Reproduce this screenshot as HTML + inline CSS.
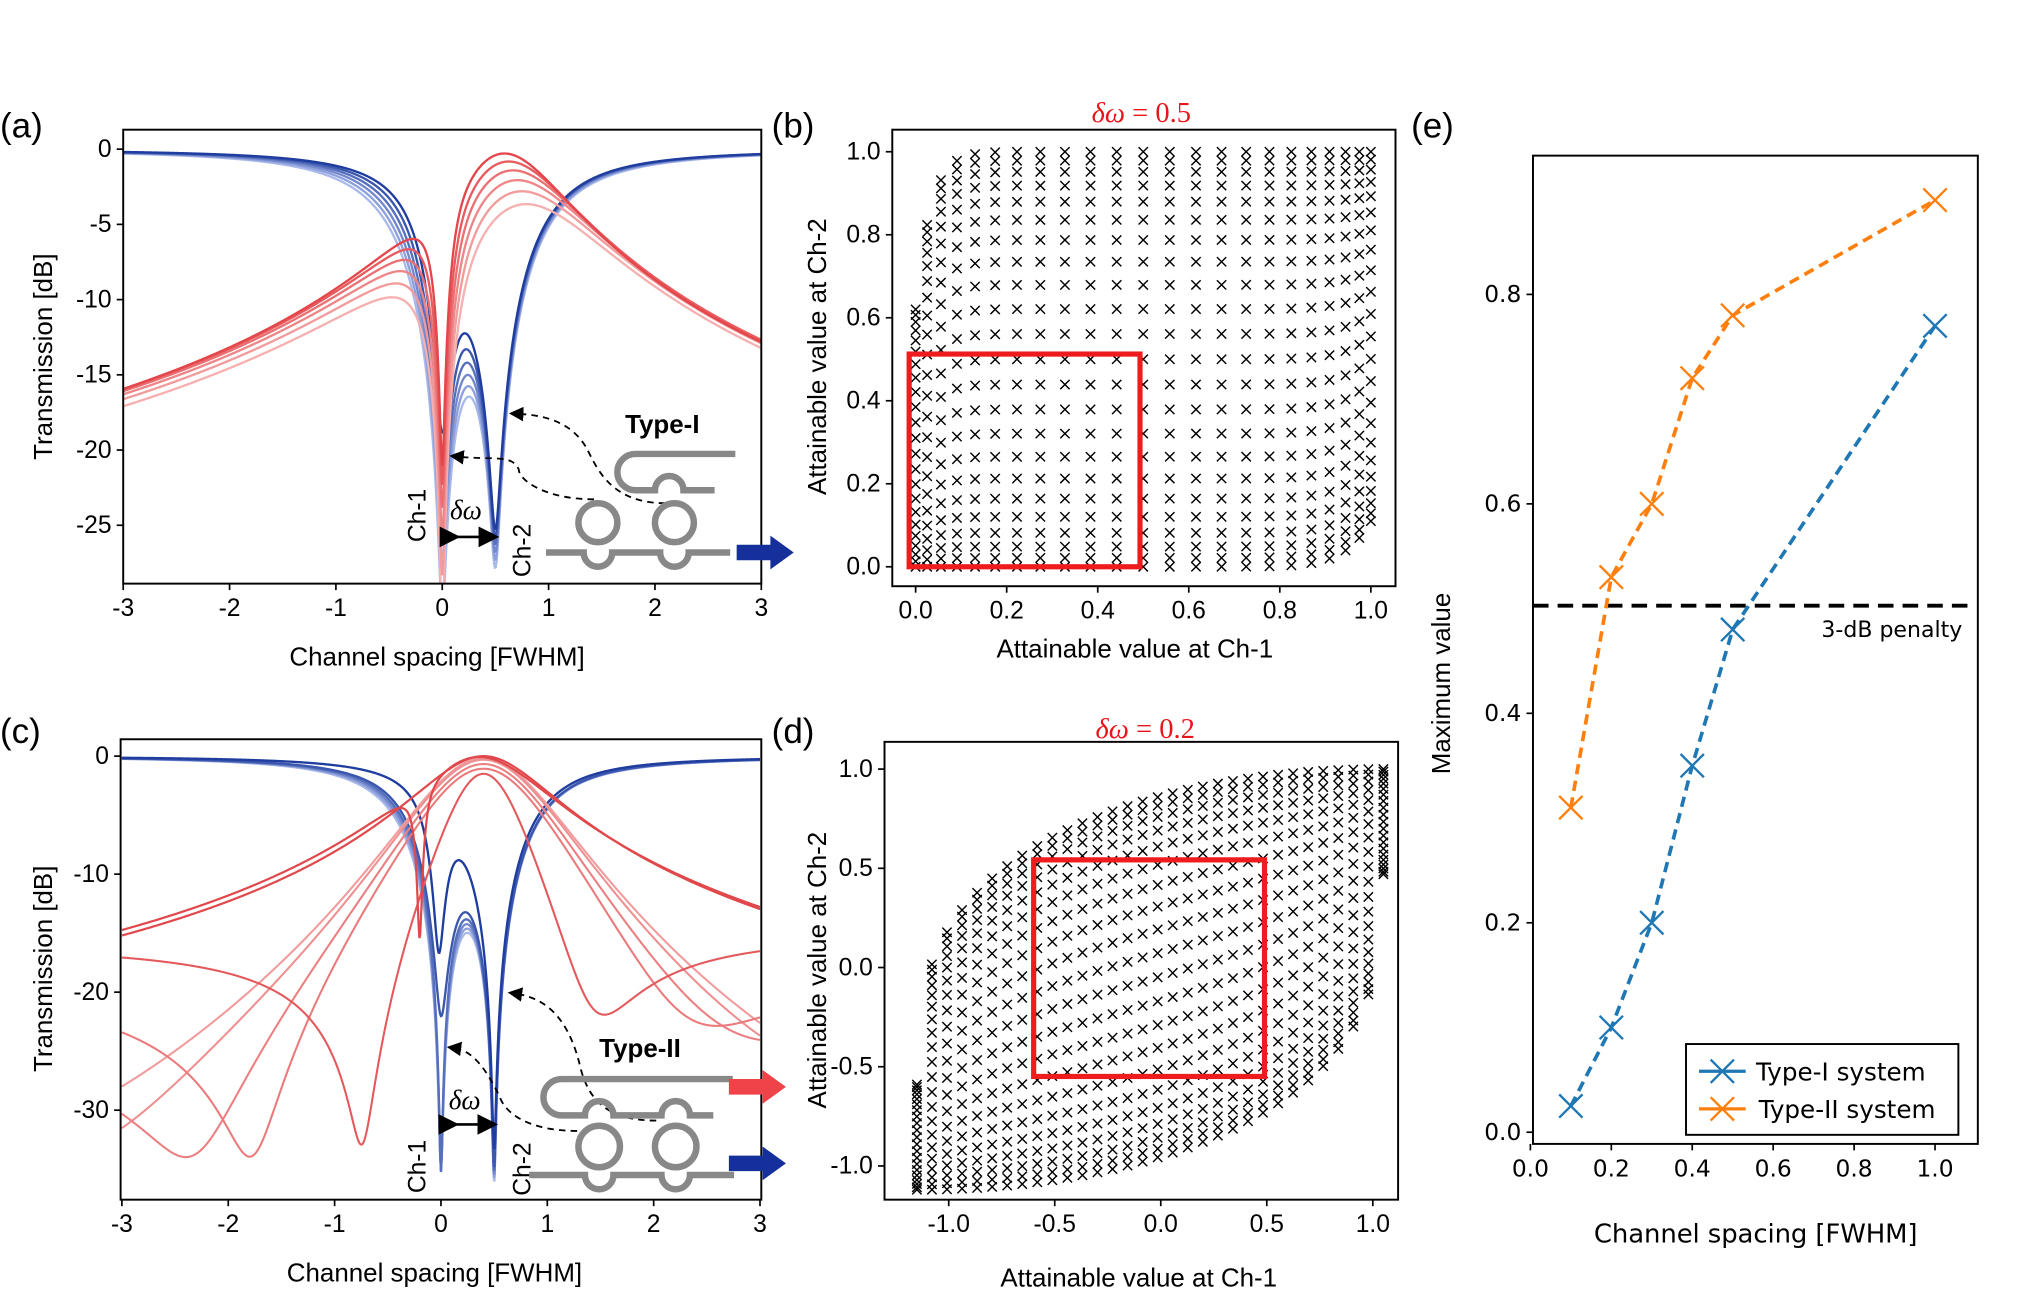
<!DOCTYPE html>
<html><head><meta charset="utf-8">
<style>
html,body{margin:0;padding:0;background:#fff;overflow:hidden;width:2031px;height:1295px;}
svg{display:block;}
text{font-family:"Liberation Sans","DejaVu Sans",sans-serif;fill:#000;}
</style></head>
<body>
<svg id="s" width="2031" height="1295" viewBox="0 0 1566 998.5" xmlns="http://www.w3.org/2000/svg" style="overflow:hidden">
<defs>
<clipPath id="ca"><rect x="95" y="100" width="492" height="350"/></clipPath>
<clipPath id="cc"><rect x="93" y="570" width="494" height="355"/></clipPath>
<marker id="ah" markerWidth="8" markerHeight="8" refX="4" refY="4" orient="auto"><path d="M0,0 L8,4 L0,8 z" fill="#000"/></marker>
</defs>
<g id="root"></g>

<text x="0" y="106" font-size="27">(a)</text>
<text x="595" y="106" font-size="27">(b)</text>
<text x="1088" y="106" font-size="27">(e)</text>
<text x="0" y="573" font-size="27">(c)</text>
<text x="595" y="573" font-size="27">(d)</text>

<text transform="translate(40,275) rotate(-90)" font-size="20" text-anchor="middle">Transmission [dB]</text>
<text x="337" y="513" font-size="20" text-anchor="middle">Channel spacing [FWHM]</text>
<text transform="translate(40,747) rotate(-90)" font-size="20" text-anchor="middle">Transmission [dB]</text>
<text x="335" y="988" font-size="20" text-anchor="middle">Channel spacing [FWHM]</text>
<text transform="translate(637,275) rotate(-90)" font-size="20" text-anchor="middle">Attainable value at Ch-2</text>
<text x="875" y="507" font-size="20" text-anchor="middle">Attainable value at Ch-1</text>
<text transform="translate(637,748) rotate(-90)" font-size="20" text-anchor="middle">Attainable value at Ch-2</text>
<text x="878" y="992" font-size="20" text-anchor="middle">Attainable value at Ch-1</text>
<text transform="translate(1118,527) rotate(-90)" font-size="20" text-anchor="middle">Maximum value</text>
<text x="1354" y="958" font-size="20" text-anchor="middle" style="font-family:'DejaVu Sans',sans-serif;letter-spacing:0.5px" textLength="250">Channel spacing [FWHM]</text>
<text x="880" y="94" font-size="22" text-anchor="middle" style="font-family:'Liberation Serif',serif;fill:#e8161b"><tspan font-style="italic">δω</tspan> = 0.5</text>
<text x="883" y="569" font-size="22" text-anchor="middle" style="font-family:'Liberation Serif',serif;fill:#e8161b"><tspan font-style="italic">δω</tspan> = 0.2</text>
</svg>
<script>
const NS="http://www.w3.org/2000/svg";
const root=document.getElementById('root');
function el(tag,attrs,parent,txt){const e=document.createElementNS(NS,tag);for(const k in attrs)e.setAttribute(k,attrs[k]);if(txt!==undefined)e.textContent=txt;(parent||root).appendChild(e);return e;}
function L(x,c,w){const u=2*(x-c)/w;return 1/(1+u*u);}
function db(v){return 10*Math.log10(Math.max(v,1e-6));}
function curve(f,X,Y,x0,x1,attrs,clip){let d="";for(let i=0;i<=800;i++){const x=x0+(x1-x0)*i/800;d+=(i?"L":"M")+X(x).toFixed(2)+","+Y(f(x)).toFixed(2);}
 const a=Object.assign({d:d,fill:"none","stroke-width":1.8},attrs);if(clip)a["clip-path"]="url(#"+clip+")";return el("path",a);}
function mix(c1,c2,t){const p=s=>[1,3,5].map(i=>parseInt(s.substr(i,2),16));const a=p(c1),b=p(c2);return "rgb("+a.map((v,i)=>Math.round(v+(b[i]-v)*t)).join(",")+")";}
function xm(x,y,s,g,col,sw){el("path",{d:`M${x-s},${y-s}L${x+s},${y+s}M${x-s},${y+s}L${x+s},${y-s}`,stroke:col||"#000","stroke-width":sw||1.1,fill:"none"},g);}
function axes(x0,y0,x1,y1){el("rect",{x:x0,y:y0,width:x1-x0,height:y1-y0,fill:"none",stroke:"#000","stroke-width":1.5});}
function xt(x,y,lab,fs,ff){el("line",{x1:x,y1:y,x2:x,y2:y+5,stroke:"#000","stroke-width":1.3});const t=el("text",{x:x,y:y+25,"font-size":fs||19,"text-anchor":"middle"},undefined,lab);if(ff)t.setAttribute("style","font-family:"+ff);}
function yt(x,y,lab,fs,ff){el("line",{x1:x,y1:y,x2:x-5,y2:y,stroke:"#000","stroke-width":1.3});const t=el("text",{x:x-9,y:y+6,"font-size":fs||19,"text-anchor":"end"},undefined,lab);if(ff)t.setAttribute("style","font-family:"+ff);}

// ===== Panel (a)
{const X=x=>341+82*x,Y=v=>115-11.6*v;
const N=6;
for(let i=N-1;i>=0;i--){const t=i/(N-1);
 const d1=0.965+0.033*Math.pow(t,0.4), w2=1.3-0.1*t, w1=0.6+0.6*t, d2=0.996;
 curve(x=>db((1-d1*L(x,0,w1))*(1-d2*L(x,0.5,w2))),X,Y,-3,3,{stroke:mix("#1f3d9e","#a9b9ea",t),"stroke-width":1.8},"ca");}
for(let i=N-1;i>=0;i--){const t=i/(N-1);
 const A=1-0.5*t,c=0.55+0.15*t,wp=1.15+0.35*t,wn=0.3+0.3*t,dn=0.985+0.013*t;
 curve(x=>db(A*L(x,c,wp)*(1-dn*L(x,0,wn))),X,Y,-3,3,{stroke:mix("#e3464b","#f6b0b0",t),"stroke-width":1.8},"ca");}
axes(95,100,587,450);
[-3,-2,-1,0,1,2,3].forEach(v=>xt(X(v),450,String(v)));
[0,-5,-10,-15,-20,-25].forEach(v=>yt(95,Y(v),String(v)));
el("text",{transform:`translate(328,418) rotate(-90)`,"font-size":19},undefined,"Ch-1");
el("text",{transform:`translate(409,445) rotate(-90)`,"font-size":19},undefined,"Ch-2");
el("line",{x1:347,y1:414,x2:377,y2:414,stroke:"#000","stroke-width":2,"marker-end":"url(#ah)","marker-start":"url(#ah)"});
el("text",{x:347,y:400,"font-size":21,style:"font-family:'Liberation Serif',serif;font-style:italic"},undefined,"δω");
el("path",{d:"M458,385 C420,385 400,370 400,362 C395,350 380,355 352,352",stroke:"#000","stroke-width":1.4,"stroke-dasharray":"5,4",fill:"none","marker-end":"url(#ah)"});
el("path",{d:"M513,388 C470,388 460,360 452,345 C440,325 420,320 398,319",stroke:"#000","stroke-width":1.4,"stroke-dasharray":"5,4",fill:"none","marker-end":"url(#ah)"});
el("text",{x:482,y:334,"font-size":20,"font-weight":"bold"},undefined,"Type-I");
const g=el("g",{stroke:"#888","stroke-width":5,fill:"none"});
el("path",{d:"M567,350 L490,350 A14,14 0 0 0 490,378 L505,378 A11,11 0 0 1 527,378 L551,378"},g);
el("ellipse",{cx:461,cy:403,rx:15,ry:15},g);el("ellipse",{cx:520,cy:403,rx:15,ry:15},g);
el("path",{d:"M421,426 L450,426 A11,11 0 0 0 472,426 L509,426 A11,11 0 0 0 531,426 L563,426"},g);
el("path",{d:"M568,420 L594,420 L594,413 L612,426 L594,439 L594,432 L568,432 z",fill:"#15309a"});
}

// ===== Panel (c)
{const X=x=>340+82*x,Y=v=>583-9.1*v;
const N=6;
for(let i=N-1;i>=0;i--){const t=i/(N-1);
 const d1=(i==0?0.95:(i==1?0.985:0.9993)), w2=1.2-0.1*t, w1=(i==0?0.35:0.7+0.35*t), d2=0.9995;
 const c1=(i==0?-0.02:0);
 curve(x=>db((1-d1*L(x,c1,w1))*(1-d2*L(x,0.5,w2))),X,Y,-3,3,{stroke:mix("#1f3d9e","#a9b9ea",t)},"cc");}
const sig=x=>1/(1+Math.exp(-3*(x-0.6)));
// [c, w, k, rightFloorFactor, t]
const reds=[[0.4,1.6,0.018,1.2,0.75],[0.4,1.6,0.035,1.0,0.65],[0.4,1.6,0.0755,0.6,0.5],[0.4,1.6,0.117,0.35,0.45],[0.4,1.0,0.16,0.25,0.15]];
reds.forEach(([c,w,k,rf,t])=>{
 curve(x=>{const l=L(x,c,w);return db((l-k)*(l-k)+sig(x)*rf*k*k+0.0004);},X,Y,-3,3,{stroke:mix("#e0484c","#f6b6b6",t),"stroke-width":1.6},"cc");});
curve(x=>db(L(x,0.4,1.2)),X,Y,-3,3,{stroke:"#e0484c","stroke-width":1.7},"cc");
curve(x=>db(L(x,0.35,1.25)*(1-0.95*L(x,-0.2,0.15))),X,Y,-3,3,{stroke:"#e0484c","stroke-width":1.7},"cc");
axes(93,570,587,925);
[-3,-2,-1,0,1,2,3].forEach(v=>xt(X(v),925,String(v)));
[0,-10,-20,-30].forEach(v=>yt(93,Y(v),String(v)));
el("text",{transform:`translate(328,920) rotate(-90)`,"font-size":19},undefined,"Ch-1");
el("text",{transform:`translate(409,922) rotate(-90)`,"font-size":19},undefined,"Ch-2");
el("line",{x1:346,y1:867,x2:376,y2:867,stroke:"#000","stroke-width":2,"marker-end":"url(#ah)","marker-start":"url(#ah)"});
el("text",{x:346,y:855,"font-size":21,style:"font-family:'Liberation Serif',serif;font-style:italic"},undefined,"δω");
el("path",{d:"M445,872 C410,872 390,860 385,845 C375,825 365,810 350,808",stroke:"#000","stroke-width":1.4,"stroke-dasharray":"5,4",fill:"none","marker-end":"url(#ah)"});
el("path",{d:"M506,864 C470,864 455,850 448,825 C440,790 425,770 397,766",stroke:"#000","stroke-width":1.4,"stroke-dasharray":"5,4",fill:"none","marker-end":"url(#ah)"});
el("text",{x:462,y:815,"font-size":20,"font-weight":"bold"},undefined,"Type-II");
const g=el("g",{stroke:"#888","stroke-width":5,fill:"none"});
el("path",{d:"M565,832 L433,832 A14,14 0 0 0 433,860 L451,860 A11,11 0 0 1 473,860 L510,860 A11,11 0 0 1 532,860 L550,860"},g);
el("circle",{cx:462,cy:884,r:16},g);el("circle",{cx:521,cy:884,r:16},g);
el("path",{d:"M408,906 L451,906 A11,11 0 0 0 473,906 L510,906 A11,11 0 0 0 532,906 L566,906"},g);
el("path",{d:"M562,832 L588,832 L588,825 L606,838 L588,851 L588,844 L562,844 z",fill:"#ee4449"});
el("path",{d:"M562,891 L588,891 L588,884 L606,897 L588,910 L588,903 L562,903 z",fill:"#15309a"});
}

// ===== Panel (b)
{const X=x=>706+351*x,Y=y=>437-320*y;const g=el("g",{});
const n=22;
for(let i=0;i<=n;i++)for(let j=0;j<=n;j++){
 const u=i/n,v0=j/n;const v=0.4*v0+0.6*(1-Math.cos(Math.PI*v0))/2;
 const x=0.5*u+0.5*(1-Math.cos(Math.PI*u))/2;
 const ymax=1-0.38*Math.pow(1-x,30),ymin=0.11*Math.pow(x,18);
 xm(X(x),Y(ymin+v*(ymax-ymin)),3.6,g);}
axes(688,100,1076,452);
[0,0.2,0.4,0.6,0.8,1].forEach(v=>xt(X(v),452,v.toFixed(1)));
[0,0.2,0.4,0.6,0.8,1].forEach(v=>yt(688,Y(v),v.toFixed(1)));
el("rect",{x:701,y:273,width:178,height:164,fill:"none",stroke:"#ee1c1c","stroke-width":4});
}

// ===== Panel (d)
{const X=x=>895+163.5*x,Y=y=>746-153*y;const g=el("g",{});
const f=u=>Math.sqrt(Math.max(0,1-(1-u)*(1-u)));
const nc=31,nr=20;
for(let i=0;i<=nc;i++){const u=i/nc;const x=-1.15+2.2*u;
 const ymax=-1.12+2.12*(0.25+0.75*Math.pow(f(u),0.7)), ymin=-1.12+2.12*(0.75-0.75*Math.pow(f(1-u),0.7));
 for(let j=0;j<=nr;j++){const v0=j/nr;const v=0.4*v0+0.6*(1-Math.cos(Math.PI*v0))/2;
  xm(X(x),Y(ymin+v*(ymax-ymin)),3.6,g);}}
axes(682,572,1078,925);
[-1,-0.5,0,0.5,1].forEach(v=>xt(X(v),925,v.toFixed(1)));
[1,0.5,0,-0.5,-1].forEach(v=>yt(682,Y(v),v.toFixed(1)));
el("rect",{x:797,y:663,width:178,height:167,fill:"none",stroke:"#ee1c1c","stroke-width":4});
}

// ===== Panel (e)
{const X=x=>1180+312*x,Y=y=>873-807.5*y;const ff="'DejaVu Sans',sans-serif";
axes(1182,120,1525,882);
el("line",{x1:1182,y1:467,x2:1520,y2:467,stroke:"#000","stroke-width":3,"stroke-dasharray":"12,7"});
el("text",{x:1513,y:491,"font-size":17,"text-anchor":"end",style:"font-family:"+ff},undefined,"3-dB penalty");
const ser=(pts,col)=>{el("path",{d:pts.map((p,i)=>(i?"L":"M")+X(p[0])+","+Y(p[1])).join(""),stroke:col,"stroke-width":2.8,"stroke-dasharray":"8,5",fill:"none"});pts.forEach(p=>xm(X(p[0]),Y(p[1]),9,root,col,1.8));};
ser([[0.1,0.31],[0.2,0.53],[0.3,0.6],[0.4,0.72],[0.5,0.78],[1,0.89]],"#ff7f0e");
ser([[0.1,0.025],[0.2,0.1],[0.3,0.2],[0.4,0.35],[0.5,0.48],[1,0.77]],"#1f77b4");
[0,0.2,0.4,0.6,0.8,1].forEach(v=>xt(X(v),882,v.toFixed(1),18,ff));
[0,0.2,0.4,0.6,0.8].forEach(v=>yt(1182,Y(v),v.toFixed(1),18,ff));
el("rect",{x:1300,y:805,width:210,height:70,fill:"#fff",stroke:"#000","stroke-width":1.5});
el("line",{x1:1310,y1:826,x2:1346,y2:826,stroke:"#1f77b4","stroke-width":2.5});xm(1328,826,9,root,"#1f77b4",1.8);
el("line",{x1:1310,y1:855,x2:1346,y2:855,stroke:"#ff7f0e","stroke-width":2.5});xm(1328,855,9,root,"#ff7f0e",1.8);
el("text",{x:1354,y:833,"font-size":19,style:"font-family:"+ff},undefined,"Type-I system");
el("text",{x:1356,y:862,"font-size":19,style:"font-family:"+ff},undefined,"Type-II system");
}
</script>
</body></html>
